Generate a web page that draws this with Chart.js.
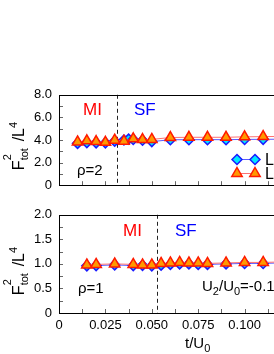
<!DOCTYPE html>
<html>
<head>
<meta charset="utf-8">
<script src="https://cdn.jsdelivr.net/npm/chart.js@4.4.0/dist/chart.umd.min.js"></script>
<style>
  html, body { margin: 0; padding: 0; background: #fff; overflow: hidden; }
  #wrap { position: relative; width: 274px; height: 354px; overflow: hidden;
          font-family: "Liberation Sans", Arial, sans-serif; }
  canvas { position: absolute; left: 0; }
  #topChart { top: 80px; }
  #botChart { top: 200px; }
  .lbl { position: absolute; white-space: nowrap; line-height: 1; }
  .red { color: #ff0000; }
  .blue { color: #0000ff; }
  .ytitle { position: absolute; width: 90px; height: 20px; line-height: 20px; text-align: center;
            font-size: 16px; transform: rotate(-90deg); transform-origin: 45px 10px; white-space: nowrap; }
  .st { display: inline-block; position: relative; width: 19px; height: 10px; }
  .st .sup { position: absolute; left: 0; top: -12px; font-size: 11px; line-height: 1; }
  .st .sub { position: absolute; left: 0; top: 5px; font-size: 11px; line-height: 1; }
  .ytitle sup { font-size: 11px; line-height: 1; vertical-align: 7px; }
  sub { font-size: 11px; line-height: 1; }
</style>
</head>
<body>
<div id="wrap">
  <canvas id="topChart" width="320" height="120"></canvas>
  <canvas id="botChart" width="320" height="154"></canvas>

  <div class="ytitle" style="left:-27px; top:136px;">F<span class="st"><span class="sup">2</span><span class="sub">tot</span></span>/L<sup>4</sup></div>
  <div class="ytitle" style="left:-27px; top:261px;">F<span class="st"><span class="sup">2</span><span class="sub">tot</span></span>/L<sup>4</sup></div>

  <div class="lbl red" style="left:83px; top:101px; font-size:17px;">MI</div>
  <div class="lbl blue" style="left:134px; top:101px; font-size:17px;">SF</div>
  <div class="lbl" style="left:77px; top:162px; font-size:15px;">ρ=2</div>

  <div class="lbl red" style="left:123px; top:222px; font-size:17px;">MI</div>
  <div class="lbl blue" style="left:175px; top:222px; font-size:17px;">SF</div>
  <div class="lbl" style="left:78px; top:280px; font-size:15px;">ρ=1</div>
  <div class="lbl" style="left:202px; top:278px; font-size:15px;">U<sub>2</sub>/U<sub>0</sub>=-0.1</div>

  <div class="lbl" style="left:185px; top:335px; font-size:15px;">t/U<sub>0</sub></div>
</div>
<script>
// Data: rho = 2 panel
const tTopDiamond = [0.01, 0.015, 0.02, 0.025, 0.03, 0.035, 0.0375, 0.04, 0.045, 0.05, 0.06, 0.07, 0.08, 0.09, 0.10, 0.11, 0.12];
const fTopDiamond = [3.70, 3.77, 3.75, 3.75, 3.90, 4.00, 4.08, 4.05, 3.98, 3.86, 4.02, 4.03, 4.03, 4.03, 4.05, 4.06, 4.07];
const tTopTriangle = [0.01, 0.015, 0.02, 0.025, 0.03, 0.035, 0.04, 0.045, 0.05, 0.06, 0.07, 0.08, 0.09, 0.10, 0.11, 0.12];
const fTopTriangle = [3.83, 3.93, 3.86, 3.80, 3.98, 3.90, 4.10, 4.04, 4.05, 4.22, 4.24, 4.24, 4.24, 4.28, 4.30, 4.32];

// Data: rho = 1 panel
const tBot = [0.015, 0.02, 0.03, 0.04, 0.045, 0.05, 0.055, 0.06, 0.065, 0.07, 0.075, 0.08, 0.09, 0.10, 0.11, 0.12];
const fBotDiamond = [0.96, 0.965, 0.98, 0.965, 0.97, 0.96, 0.975, 0.99, 1.00, 1.00, 0.99, 0.99, 1.00, 1.01, 1.01, 1.02];
const fBotTriangle = [0.98, 0.99, 1.00, 0.99, 0.98, 0.98, 1.01, 1.02, 1.03, 1.02, 1.02, 1.01, 1.02, 1.03, 1.03, 1.04];

// Axis settings
const xMin = 0, xMax = 0.125, xLabelStep = 0.025, xMinorStep = 0.0125;
const yTopMax = 8, yTopLabelStep = 2, yTopMinorStep = 1;
const yBotMax = 2, yBotLabelStep = 0.5, yBotMinorStep = 0.25;
const boundaryTop = 0.031, boundaryBot = 0.053;
const legendLabels = ['L=8', 'L=10'];

const toPoints = (xs, ys) => xs.map((x, i) => ({ x: x, y: ys[i] }));

const diamondStyle = {
  pointStyle: 'rectRot', pointRadius: 5, pointBackgroundColor: '#00e8ff',
  pointBorderColor: '#1a1aff', pointBorderWidth: 1.5,
  borderColor: '#5a5aff', borderWidth: 1, order: 2
};
const triangleStyle = {
  pointStyle: 'triangle', pointRadius: 6, pointBackgroundColor: '#ff9900',
  pointBorderColor: '#ff1a00', pointBorderWidth: 1.5,
  borderColor: '#ff7070', borderWidth: 1, order: 1
};

const fmt = (v, d) => (v === 0 ? '0' : v.toFixed(d));

const drawMarker = (ctx, style, px, py) => {
  const s = style.pointRadius;
  ctx.fillStyle = style.pointBackgroundColor;
  ctx.strokeStyle = style.pointBorderColor;
  ctx.lineWidth = style.pointBorderWidth;
  ctx.beginPath();
  if (style.pointStyle === 'rectRot') {
    ctx.moveTo(px, py - s); ctx.lineTo(px + s, py);
    ctx.lineTo(px, py + s); ctx.lineTo(px - s, py);
  } else {
    ctx.moveTo(px, py - s);
    ctx.lineTo(px + s * 0.866, py + s * 0.5);
    ctx.lineTo(px - s * 0.866, py + s * 0.5);
  }
  ctx.closePath();
  ctx.fill();
  ctx.stroke();
};

const framePlugin = {
  id: 'frame',
  beforeDatasetsDraw(chart, args, opts) {
    const { ctx, chartArea: a, scales: { x } } = chart;
    ctx.save();
    ctx.strokeStyle = '#222';
    ctx.lineWidth = 1;
    ctx.setLineDash([4, 3]);
    const xd = Math.round(x.getPixelForValue(opts.boundary)) + 0.5;
    ctx.beginPath();
    ctx.moveTo(xd, a.top);
    ctx.lineTo(xd, a.bottom);
    ctx.stroke();
    ctx.restore();
  },
  afterDatasetsDraw(chart, args, opts) {
    const { ctx, chartArea: a, scales: { x, y } } = chart;
    ctx.save();
    ctx.strokeStyle = '#666';
    ctx.lineWidth = 1;
    ctx.beginPath();
    for (let v = xMin + xMinorStep; v < xMax - 1e-9; v += xMinorStep) {
      const px = Math.round(x.getPixelForValue(v)) + 0.5;
      ctx.moveTo(px, a.bottom);
      ctx.lineTo(px, a.bottom - 4);
    }
    for (let v = opts.yMinor; v < opts.yMax - 1e-9; v += opts.yMinor) {
      const py = Math.round(y.getPixelForValue(v)) + 0.5;
      ctx.moveTo(a.left, py);
      ctx.lineTo(a.left + 4, py);
    }
    ctx.stroke();
    ctx.strokeStyle = '#000';
    ctx.strokeRect(Math.round(a.left) + 0.5, Math.round(a.top) + 0.5,
      Math.round(a.right - a.left), Math.round(a.bottom - a.top));

    if (opts.legend) {
      const rows = [
        { y: 79.5, style: diamondStyle, label: legendLabels[0] },
        { y: 93.5, style: triangleStyle, label: legendLabels[1] }
      ];
      rows.forEach(r => {
        ctx.strokeStyle = r.style.borderColor;
        ctx.lineWidth = 1;
        ctx.beginPath();
        ctx.moveTo(237, r.y);
        ctx.lineTo(255, r.y);
        ctx.stroke();
        drawMarker(ctx, r.style, 237, r.y);
        drawMarker(ctx, r.style, 255, r.y);
        ctx.fillStyle = '#000';
        ctx.font = '16px "Liberation Sans", Arial, sans-serif';
        ctx.textBaseline = 'middle';
        ctx.fillText(r.label, 265, r.y + 1);
      });
    }
    ctx.restore();
  }
};

const makePanel = (canvasId, datasets, cfg) => {
  const ctx = document.getElementById(canvasId).getContext('2d');
  return new Chart(ctx, {
    type: 'line',
    data: { datasets: datasets },
    plugins: [framePlugin],
    options: {
      responsive: false,
      animation: false,
      layout: { padding: { top: 9, right: 29, left: 0, bottom: 0 } },
      plugins: {
        legend: { display: false },
        tooltip: { enabled: false },
        frame: { boundary: cfg.boundary, yMinor: cfg.yMinor, yMax: cfg.yMax, legend: cfg.legend }
      },
      scales: {
        x: {
          type: 'linear', min: xMin, max: xMax,
          grid: { display: false, drawTicks: false },
          border: { display: false },
          ticks: {
            display: cfg.showX, stepSize: xLabelStep, padding: 5, color: '#000',
            font: { family: '"Liberation Sans", Arial, sans-serif', size: 13 },
            maxRotation: 0, autoSkip: false,
            callback: v => fmt(v, 3)
          },
          afterFit: s => { s.height = cfg.xHeight; }
        },
        y: {
          type: 'linear', min: 0, max: cfg.yMax,
          grid: { display: false, drawTicks: false },
          border: { display: false },
          ticks: {
            stepSize: cfg.yStep, padding: 7, color: '#000',
            font: { family: '"Liberation Sans", Arial, sans-serif', size: 13 },
            callback: v => fmt(v, 1)
          },
          afterFit: s => { s.width = 59; }
        }
      }
    }
  });
};

makePanel('topChart', [
  { label: legendLabels[0], data: toPoints(tTopDiamond, fTopDiamond), ...diamondStyle },
  { label: legendLabels[1], data: toPoints(tTopTriangle, fTopTriangle), ...triangleStyle }
], { boundary: boundaryTop, yMax: yTopMax, yStep: yTopLabelStep, yMinor: yTopMinorStep,
     showX: false, xHeight: 7, legend: true });

makePanel('botChart', [
  { label: legendLabels[0], data: toPoints(tBot, fBotDiamond), ...diamondStyle },
  { label: legendLabels[1], data: toPoints(tBot, fBotTriangle), ...triangleStyle }
], { boundary: boundaryBot, yMax: yBotMax, yStep: yBotLabelStep, yMinor: yBotMinorStep,
     showX: true, xHeight: 41, legend: false });
</script>
</body>
</html>
